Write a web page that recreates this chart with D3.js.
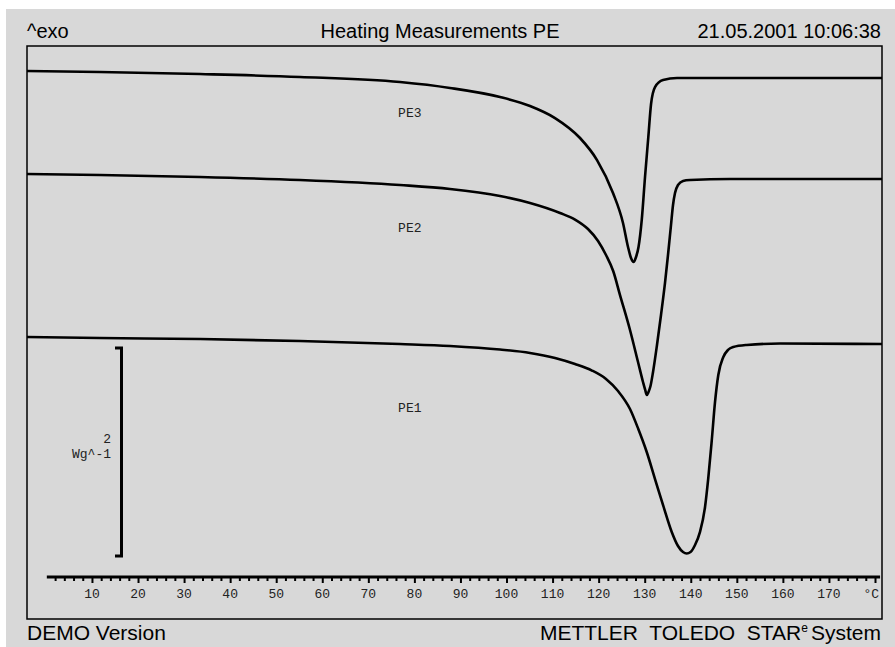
<!DOCTYPE html>
<html><head><meta charset="utf-8">
<script src="https://cdn.jsdelivr.net/npm/d3@7"></script>
<style>html,body{margin:0;padding:0;background:#fff;}svg{display:block}</style>
</head><body><svg id="c" width="895" height="647"></svg>
<script>
// ---------- data ----------
const headerLeft = "^exo";
const chartTitle = "Heating Measurements PE";
const headerDate = "21.05.2001 10:06:38";
const footerLeft = "DEMO Version";
const seriesNames = ["PE1", "PE2", "PE3"];
const tickLabels = [10,20,30,40,50,60,70,80,90,100,110,120,130,140,150,160,170];
const unitLabel = "°C";
const scaleBarValue = 2;
const scaleBarBase = 0.23;
const scaleBarUnit = "Wg^-1";

const pe1T = [-4.10, 11.74, 33.46, 55.17, 76.88, 87.73, 98.59, 105.10, 110.53, 114.87, 118.56, 121.60, 124.21, 126.81, 128.61, 130.44, 132.24, 134.04, 135.87, 137.23, 138.32, 139.12, 139.95, 140.93, 142.01, 143.10, 143.81, 144.55, 145.27, 145.98, 147.07, 148.09, 149.24, 152.15, 159.38, 181.53];
const pe1W = [2.337, 2.327, 2.317, 2.298, 2.269, 2.250, 2.216, 2.183, 2.135, 2.077, 2.014, 1.933, 1.817, 1.644, 1.452, 1.231, 0.971, 0.712, 0.462, 0.327, 0.269, 0.255, 0.269, 0.337, 0.462, 0.702, 0.981, 1.337, 1.712, 1.971, 2.144, 2.212, 2.240, 2.260, 2.274, 2.269];
const pe2T = [-4.10, 11.74, 33.46, 55.17, 76.88, 87.73, 98.59, 105.10, 111.62, 114.87, 117.69, 119.87, 121.60, 123.16, 124.64, 126.81, 128.55, 129.63, 130.11, 130.46, 130.83, 131.26, 131.81, 132.67, 133.54, 134.41, 135.06, 135.71, 136.15, 136.58, 137.23, 138.32, 139.84, 148.53, 181.53];
const pe2W = [3.904, 3.894, 3.875, 3.846, 3.798, 3.760, 3.692, 3.625, 3.529, 3.466, 3.375, 3.260, 3.125, 2.971, 2.740, 2.404, 2.096, 1.904, 1.827, 1.779, 1.808, 1.865, 2.000, 2.260, 2.548, 2.856, 3.125, 3.413, 3.606, 3.721, 3.798, 3.837, 3.846, 3.856, 3.856];
const pe3T = [-4.10, 11.74, 33.46, 55.17, 76.88, 87.73, 98.59, 105.10, 110.53, 115.96, 119.65, 123.12, 125.29, 126.38, 127.03, 127.58, 128.12, 128.66, 129.36, 130.07, 130.79, 131.38, 132.24, 133.98, 137.02, 148.53, 181.53];
const pe3W = [4.894, 4.885, 4.865, 4.837, 4.788, 4.731, 4.644, 4.558, 4.442, 4.250, 4.038, 3.721, 3.433, 3.202, 3.096, 3.058, 3.106, 3.202, 3.462, 3.875, 4.260, 4.577, 4.740, 4.808, 4.827, 4.827, 4.827];

// ---------- layout ----------
const L = {frameL: 27, frameT: 46, frameR: 882, frameB: 619, axisY: 577};
const svg = d3.select("#c");
const sansFont = "'Liberation Sans', Arial, Helvetica, sans-serif";
const monoFont = "'Courier New', 'Liberation Mono', monospace";

svg.append("rect").attr("x", 6).attr("y", 9).attr("width", 889).attr("height", 638).attr("fill", "#d8d8d8");

const x = d3.scaleLinear().domain([0, 180]).range([45.9, 875]);
const y = d3.scaleLinear().domain([0, 5]).range([580, 60]);

svg.append("defs").append("clipPath").attr("id", "clip")
  .append("rect").attr("x", L.frameL).attr("y", L.frameT)
  .attr("width", L.frameR - L.frameL).attr("height", L.frameB - L.frameT);

svg.append("rect").attr("x", L.frameL).attr("y", L.frameT)
  .attr("width", L.frameR - L.frameL).attr("height", L.frameB - L.frameT)
  .attr("fill", "none").attr("stroke", "#000").attr("stroke-width", 1.5);

// header
svg.append("text").attr("x", 27).attr("y", 38).attr("font-family", sansFont).attr("font-size", 20).text(headerLeft);
svg.append("text").attr("x", 440).attr("y", 38).attr("text-anchor", "middle").attr("font-family", sansFont).attr("font-size", 20).text(chartTitle);
svg.append("text").attr("x", 881).attr("y", 38).attr("text-anchor", "end").attr("font-family", sansFont).attr("font-size", 20).text(headerDate);

// footer
svg.append("text").attr("x", 27).attr("y", 640).attr("font-family", sansFont).attr("font-size", 21).text(footerLeft);
const ft = svg.append("text").attr("x", 881).attr("y", 640).attr("text-anchor", "end")
  .attr("font-family", sansFont).attr("font-size", 21).style("white-space", "pre");
ft.append("tspan").text("METTLER  TOLEDO  STAR");
ft.append("tspan").attr("font-size", 12).attr("dy", -8).text("e");
ft.append("tspan").attr("dy", 8).attr("dx", 3).text("System");

// curves
const series = [
  {name: seriesNames[0], T: pe1T, W: pe1W, lab: [79, 1.62]},
  {name: seriesNames[1], T: pe2T, W: pe2W, lab: [79, 3.35]},
  {name: seriesNames[2], T: pe3T, W: pe3W, lab: [79, 4.45]}
];
const line = d3.line().x(d => x(d[0])).y(d => y(d[1])).curve(d3.curveMonotoneX);
const g = svg.append("g").attr("clip-path", "url(#clip)");
series.forEach(s => {
  const pts = s.T.map((t, i) => [t, s.W[i]]);
  g.append("path").attr("d", line(pts)).attr("fill", "none").attr("stroke", "#000")
    .attr("stroke-width", 2.6).attr("stroke-linejoin", "round");
  svg.append("text").attr("x", x(s.lab[0])).attr("y", y(s.lab[1])).attr("text-anchor", "middle")
    .attr("font-family", monoFont).attr("font-size", 13).attr("fill", "#222").text(s.name);
});

// x axis
const minorTicks = d3.range(2, 181, 2);
const axis = d3.axisBottom(x).tickValues(minorTicks)
  .tickSize(0).tickFormat(() => "");
const ag = svg.append("g").attr("transform", `translate(0,${L.axisY})`).call(axis);
ag.select(".domain").remove();
ag.selectAll(".tick line").attr("y2", d => d % 10 === 0 ? 6 : 4)
  .attr("stroke", "#000").attr("stroke-width", 2);
svg.append("line").attr("x1", x(0.2)).attr("x2", x(181.1)).attr("y1", L.axisY).attr("y2", L.axisY)
  .attr("stroke", "#000").attr("stroke-width", 3);
svg.selectAll(".tlab").data(tickLabels).join("text").attr("class", "tlab")
  .attr("x", d => x(d)).attr("y", 598).attr("text-anchor", "middle")
  .attr("font-family", monoFont).attr("font-size", 13).attr("fill", "#222").text(d => d);
svg.append("text").attr("x", 879).attr("y", 598).attr("text-anchor", "end")
  .attr("font-family", monoFont).attr("font-size", 13).attr("fill", "#222").text(unitLabel);

// scale bar
const sbTop = y(scaleBarBase + scaleBarValue), sbBot = y(scaleBarBase);
svg.append("path").attr("d", `M115,${sbTop}H121.5V${sbBot}H115`).attr("fill", "none")
  .attr("stroke", "#000").attr("stroke-width", 3);
svg.append("text").attr("x", 111).attr("y", 443).attr("text-anchor", "end")
  .attr("font-family", monoFont).attr("font-size", 13).attr("fill", "#222").text(scaleBarValue);
svg.append("text").attr("x", 111).attr("y", 458).attr("text-anchor", "end")
  .attr("font-family", monoFont).attr("font-size", 13).attr("fill", "#222").text(scaleBarUnit);
</script></body></html>
